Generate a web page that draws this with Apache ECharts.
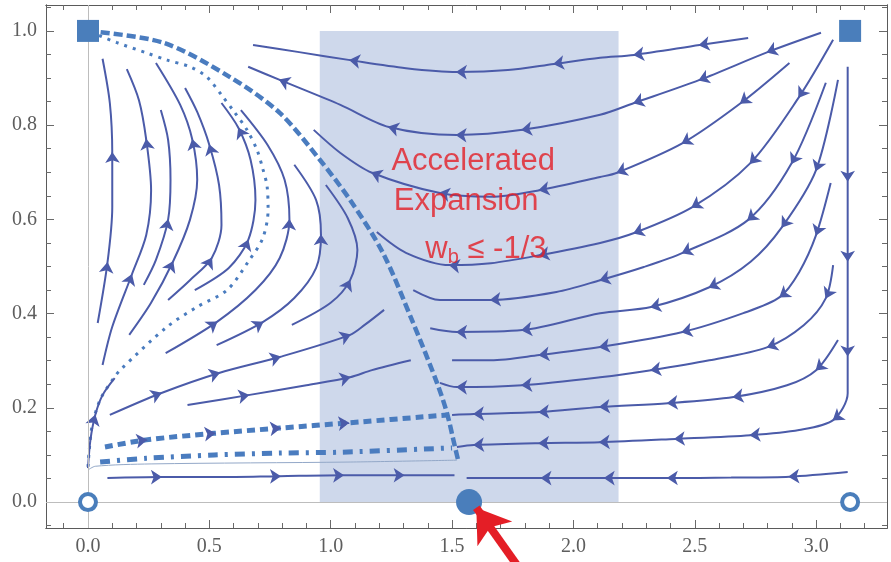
<!DOCTYPE html>
<html>
<head>
<meta charset="utf-8">
<title>Phase portrait</title>
<script src="https://cdn.jsdelivr.net/npm/echarts@6/dist/echarts.min.js"></script>
<style>
html, body { margin: 0; padding: 0; background: #fff; }
#chart { width: 891px; height: 562px; }
</style>
</head>
<body>
<div id="chart"></div>
<script>
// ticks
const xMajor = [0, 0.5, 1, 1.5, 2, 2.5, 3]
const xMinor = [-0.1, 0.1, 0.2, 0.3, 0.4, 0.6, 0.7, 0.8, 0.9, 1.1, 1.2, 1.3, 1.4, 1.6, 1.7, 1.8, 1.9,
  2.1, 2.2, 2.3, 2.4, 2.6, 2.7, 2.8, 2.9, 3.1, 3.2]
const yMajor = [0, 0.2, 0.4, 0.6, 0.8, 1]
const yMinor = [-0.05, 0.05, 0.1, 0.15, 0.25, 0.3, 0.35, 0.45, 0.5, 0.55, 0.65, 0.7, 0.75, 0.85, 0.9, 0.95, 1.05]

// shaded band (accelerated expansion)
const accelBand = [0.955, 2.186]

// fixed points
const squarePts = [[0, 1], [3.14, 1]]
const ringPts = [[0, 0], [3.14, 0]]
const dotPts = [[1.57, 0]]

// streamlines, each listed along the flow
// left: arcs rising towards (0,1)
const arcA = [[0.04, 0.38], [0.08, 0.507], [0.10, 0.626], [0.10, 0.741], [0.09, 0.847], [0.06, 0.941]]
const arcB = [[0.06, 0.291], [0.10, 0.372], [0.18, 0.482], [0.24, 0.567], [0.26, 0.662], [0.24, 0.769], [0.21, 0.853], [0.16, 0.919]]
const arcC = [[0.17, 0.355], [0.26, 0.423], [0.35, 0.51], [0.42, 0.599], [0.45, 0.684], [0.43, 0.769], [0.38, 0.843], [0.28, 0.932]]
const arcD = [[0.23, 0.461], [0.28, 0.514], [0.33, 0.599], [0.34, 0.684], [0.33, 0.769], [0.30, 0.832]]
const arcE = [[0.33, 0.429], [0.42, 0.471], [0.51, 0.518], [0.55, 0.588], [0.54, 0.673], [0.50, 0.758], [0.45, 0.828], [0.40, 0.879]]
const arcF = [[0.44, 0.45], [0.58, 0.497], [0.66, 0.556], [0.69, 0.641], [0.67, 0.726], [0.62, 0.794], [0.55, 0.847]]
const arcG = [[0.32, 0.316], [0.53, 0.382], [0.69, 0.45], [0.79, 0.518], [0.83, 0.599], [0.81, 0.684], [0.74, 0.758], [0.63, 0.832]]
const arcH = [[0.53, 0.333], [0.72, 0.382], [0.85, 0.433], [0.94, 0.497], [0.96, 0.567], [0.94, 0.641], [0.85, 0.716]]
const arcI = [[0.84, 0.376], [1.00, 0.423], [1.08, 0.471], [1.11, 0.535], [1.07, 0.603], [0.98, 0.673]]
const riseS = [[0.0, 0.072], [0.01, 0.132], [0.03, 0.185], [0.06, 0.227], [0.11, 0.263]]
const lowL1 = [[0.09, 0.185], [0.30, 0.231], [0.54, 0.274], [0.79, 0.308], [1.08, 0.355], [1.14, 0.376], [1.22, 0.408]]
const lowL2 = [[0.41, 0.206], [0.66, 0.227], [0.90, 0.248], [1.08, 0.265], [1.17, 0.28], [1.33, 0.301]]
const baseLeft = [[0.08, 0.051], [0.30, 0.053], [0.54, 0.053], [0.79, 0.055], [1.05, 0.057], [1.30, 0.057], [1.51, 0.057]]

// right: lines leaving (pi,1) and running left
const top1 = [[2.72, 0.985], [2.52, 0.97], [2.25, 0.949], [2.11, 0.943], [1.92, 0.93], [1.73, 0.917], [1.52, 0.913], [1.31, 0.921], [1.08, 0.938], [0.87, 0.955], [0.68, 0.97]]
const top2 = [[3.02, 0.996], [2.80, 0.955], [2.52, 0.896], [2.25, 0.847], [2.11, 0.822], [1.79, 0.79], [1.52, 0.779], [1.24, 0.796], [1.04, 0.843], [0.79, 0.896], [0.66, 0.924]]
const top3 = [[2.89, 0.932], [2.69, 0.847], [2.45, 0.762], [2.18, 0.699], [2.11, 0.69], [1.86, 0.662], [1.66, 0.648], [1.45, 0.656], [1.17, 0.699], [1.04, 0.741], [0.93, 0.79]]
const top4 = [[3.07, 0.981], [2.93, 0.86], [2.73, 0.72], [2.49, 0.626], [2.25, 0.571], [2.11, 0.55], [1.86, 0.524], [1.66, 0.507], [1.49, 0.503], [1.31, 0.529], [1.19, 0.573]]
const side5 = [[3.04, 0.89], [2.90, 0.72], [2.72, 0.599], [2.45, 0.529], [2.29, 0.499], [2.11, 0.471], [1.93, 0.446], [1.66, 0.429], [1.45, 0.429], [1.34, 0.45]]
const side6 = [[3.09, 0.896], [3.00, 0.705], [2.86, 0.584], [2.73, 0.51], [2.56, 0.456], [2.32, 0.414], [2.11, 0.401], [1.79, 0.365], [1.52, 0.361], [1.41, 0.369]]
const side7 = [[3.06, 0.677], [3.00, 0.567], [2.93, 0.488], [2.85, 0.435], [2.70, 0.401], [2.45, 0.361], [2.11, 0.329], [1.86, 0.312], [1.66, 0.301], [1.50, 0.301]]
const side8 = [[3.07, 0.503], [3.04, 0.433], [2.95, 0.376], [2.80, 0.329], [2.56, 0.301], [2.32, 0.28], [2.11, 0.265], [1.79, 0.248], [1.52, 0.244], [1.45, 0.253]]
const side9 = [[3.09, 0.344], [3.00, 0.28], [2.88, 0.248], [2.66, 0.223], [2.39, 0.21], [2.11, 0.202], [1.86, 0.191], [1.59, 0.187], [1.50, 0.185]]
const edgeV = [[3.13, 0.924], [3.13, 0.684], [3.13, 0.514], [3.13, 0.312], [3.13, 0.231], [3.07, 0.174], [2.93, 0.153], [2.73, 0.142], [2.42, 0.134], [2.11, 0.127], [1.86, 0.125], [1.59, 0.121], [1.52, 0.117]]
const baseRight = [[3.13, 0.064], [2.89, 0.054], [2.65, 0.052], [2.39, 0.051], [2.13, 0.051], [1.87, 0.051], [1.56, 0.051]]

// highlighted trajectories
const separatrix = [[0, 1.0], [0.31, 0.975], [0.585, 0.902], [0.79, 0.826], [0.956, 0.726], [1.08, 0.641], [1.215, 0.529], [1.335, 0.386], [1.438, 0.253], [1.479, 0.189], [1.512, 0.117], [1.525, 0.089]]
const dottedArc = [[0.0, 0.075], [0.016, 0.159], [0.05, 0.217], [0.103, 0.261], [0.132, 0.28], [0.326, 0.372], [0.449, 0.414], [0.573, 0.45], [0.66, 0.51], [0.72, 0.56], [0.742, 0.62], [0.738, 0.67], [0.721, 0.706], [0.696, 0.748], [0.655, 0.79], [0.60, 0.83], [0.556, 0.86], [0.49, 0.902], [0.42, 0.924], [0.326, 0.938], [0.243, 0.953], [0.12, 0.975], [0, 1.0]]
const dashedLow = [[0.07, 0.117], [0.24, 0.132], [0.52, 0.146], [0.79, 0.157], [1.07, 0.168], [1.48, 0.185]]
const dashDotLow = [[0.05, 0.085], [0.24, 0.093], [0.52, 0.1], [0.79, 0.104], [1.05, 0.106], [1.50, 0.115]]
const thinLow = [[0, 0.068], [0.03, 0.076], [0.26, 0.081], [1.08, 0.085], [1.52, 0.089]]

const redArrow = [[1.768, -0.134], [1.60, -0.012]]

const STREAM = '#4b5ba9'
const SPECIAL = '#4a7cbf'
const MARK = '#4a7ebb'
const RED = '#e41e26'

const arcLines = [arcA, arcB, arcC, arcD, arcE, arcF, arcG, arcH, arcI]
const flowLines = [riseS, lowL1, lowL2, baseLeft, top1, top2, top3, top4,
  side5, side6, side7, side8, side9, edgeV, baseRight]

const X_MIN = -0.173, X_MAX = 3.292, Y_MIN = -0.055, Y_MAX = 1.055

function xAxis(position, ticks, len, labels) {
  return {
    type: 'value', position, min: X_MIN, max: X_MAX,
    axisLine: { show: true, onZero: false, lineStyle: { color: '#5a5a5a', width: 1 } },
    axisTick: { show: true, inside: true, length: len, customValues: ticks, lineStyle: { color: '#6a6a6a' } },
    axisLabel: labels ? {
      show: true, customValues: ticks, margin: 9,
      formatter: v => Number(v).toFixed(1),
      fontFamily: 'Liberation Serif', fontSize: 20, color: '#5e5e5e'
    } : { show: false },
    splitLine: { show: false }
  }
}
function yAxis(position, ticks, len, labels) {
  return {
    type: 'value', position, min: Y_MIN, max: Y_MAX,
    axisLine: { show: true, onZero: false, lineStyle: { color: '#5a5a5a', width: 1 } },
    axisTick: { show: true, inside: true, length: len, customValues: ticks, lineStyle: { color: '#6a6a6a' } },
    axisLabel: labels ? {
      show: true, customValues: ticks, margin: 9,
      formatter: v => Number(v).toFixed(1),
      fontFamily: 'Liberation Serif', fontSize: 20, color: '#5e5e5e'
    } : { show: false },
    splitLine: { show: false }
  }
}

function streamSeries(line, style) {
  return {
    type: 'line', data: line, smooth: 0.3, symbol: 'none', silent: true, z: 3,
    lineStyle: style
  }
}

const chart = echarts.init(document.getElementById('chart'))

const series = [
  {
    // band + origin axes
    type: 'line', data: [], silent: true,
    markArea: {
      silent: true,
      itemStyle: { color: '#ced8eb' },
      data: [[{ coord: [accelBand[0], 0] }, { coord: [accelBand[1], 1] }]]
    },
    markLine: {
      silent: true, symbol: ['none', 'none'], label: { show: false },
      lineStyle: { color: '#bdbdbd', width: 1, type: 'solid' },
      data: [{ xAxis: 0 }, { yAxis: 0 }]
    }
  },
  streamSeries(thinLow, { color: '#93a8c8', width: 1 }),
  streamSeries(dashDotLow, { color: SPECIAL, width: 5, type: [10, 7, 3, 7] }),
  streamSeries(dashedLow, { color: SPECIAL, width: 5, type: [8, 5] }),
  streamSeries(dottedArc, { color: SPECIAL, width: 3, type: [3, 6] }),
  streamSeries(separatrix, { color: SPECIAL, width: 4.5, type: [9, 4] })
]
arcLines.concat(flowLines).forEach(l => series.push(streamSeries(l, { color: STREAM, width: 2 })))

series.push(
  {
    type: 'scatter', data: squarePts, symbol: 'rect', symbolSize: 22, z: 10, silent: true,
    itemStyle: { color: MARK, opacity: 1 }
  },
  {
    type: 'scatter', data: ringPts, symbol: 'circle', symbolSize: 16, z: 10, silent: true,
    itemStyle: { color: '#fff', borderColor: MARK, borderWidth: 4, opacity: 1 }
  },
  {
    type: 'scatter', data: dotPts, symbol: 'circle', symbolSize: 26, z: 10, silent: true,
    itemStyle: { color: MARK, opacity: 1 }
  },
  {
    type: 'scatter', symbolSize: 0, silent: true, z: 12,
    label: {
      show: true, position: 'right', distance: 0, color: RED,
      fontFamily: 'Liberation Sans', fontSize: 31
    },
    data: [
      { value: [1.25, 0.722], label: { formatter: 'Accelerated' } },
      { value: [1.26, 0.637], label: { formatter: 'Expansion' } },
      {
        value: [1.39, 0.536],
        label: {
          formatter: '{w|w}{s|b}{w| ≤ -1/3}',
          rich: {
            w: { fontSize: 31, color: RED, fontFamily: 'Liberation Sans' },
            s: { fontSize: 20, color: RED, fontFamily: 'Liberation Sans', padding: [15, 0, 0, 0] }
          }
        }
      }
    ]
  },
  {
    type: 'lines', coordinateSystem: 'cartesian2d', polyline: false, clip: false, silent: true, z: 12,
    symbol: ['none', 'arrow'], symbolSize: 32,
    lineStyle: { color: RED, width: 8, opacity: 1, curveness: 0 },
    data: [{ coords: redArrow }]
  }
)

chart.setOption({
  animation: false,
  backgroundColor: '#fff',
  grid: { left: 46, right: 4, top: 5, bottom: 34, containLabel: false, outerBoundsMode: 'none' },
  xAxis: [xAxis('bottom', xMajor, 8, true), xAxis('bottom', xMinor, 5, false),
    xAxis('top', xMajor, 8, false), xAxis('top', xMinor, 5, false)],
  yAxis: [yAxis('left', yMajor, 8, true), yAxis('left', yMinor, 5, false),
    yAxis('right', yMajor, 8, false), yAxis('right', yMinor, 5, false)],
  series
})

// arrowheads placed on read points, roughly every `gap` pixels along each line
function arrowMarks(line, gap) {
  const px = line.map(p => chart.convertToPixel({ gridIndex: 0 }, p))
  const out = []
  let run = gap * 0.5
  for (let i = 1; i < line.length - 1; i++) {
    run += Math.hypot(px[i][0] - px[i - 1][0], px[i][1] - px[i - 1][1])
    if (run >= gap) {
      run = 0
      const a = line[i - 1], b = line[i + 1], p = line[i]
      const dx = (b[0] - a[0]) * 0.01, dy = (b[1] - a[1]) * 0.01
      out.push({ coords: [[p[0] - dx, p[1] - dy], [p[0] + dx, p[1] + dy]] })
    }
  }
  return out
}

let arrows = []
arcLines.forEach(l => { arrows = arrows.concat(arrowMarks(l, 95)) })
flowLines.concat([dashedLow]).forEach(l => { arrows = arrows.concat(arrowMarks(l, 60)) })

series.push({
  type: 'lines', coordinateSystem: 'cartesian2d', silent: true, z: 4,
  symbol: ['none', 'arrow'], symbolSize: 11,
  lineStyle: { color: STREAM, width: 1, opacity: 1 },
  data: arrows
})
chart.setOption({ series })
</script>
</body>
</html>
